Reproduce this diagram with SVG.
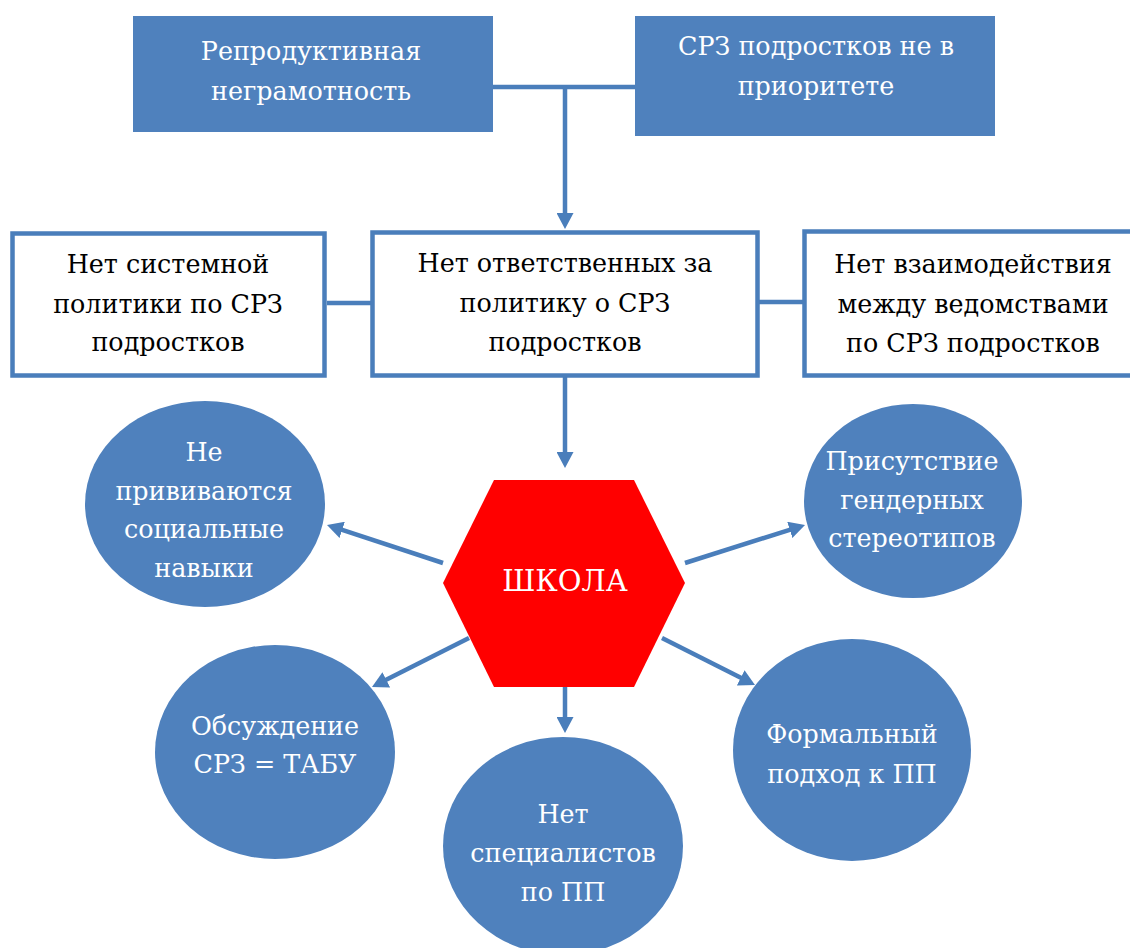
<svg xmlns="http://www.w3.org/2000/svg" width="1130" height="948" viewBox="0 0 1130 948">
<style>
.t{font-family:"DejaVu Serif","Liberation Serif",serif;font-size:25.4px;text-anchor:middle}
.w{fill:#FFFFFF}
.k{fill:#000000}
.fill{fill:#4F81BD}
.box{fill:#FFFFFF;stroke:#4A7EBB;stroke-width:4.5}
.con{stroke:#4A7EBB;stroke-width:4.5;fill:none}
</style>
<defs>
<marker id="ah" markerUnits="userSpaceOnUse" markerWidth="16" markerHeight="17" viewBox="0 0 16 17" refX="4" refY="8.5" orient="auto">
<path d="M0,0 L16,8.5 L0,17 z" fill="#4A7EBB"/>
</marker>
</defs>
<rect width="1130" height="948" fill="#FFFFFF"/>
<g id="connectors">
<line class="con" x1="493" y1="87" x2="635" y2="87"/>
<line class="con" x1="565" y1="87" x2="565" y2="217" marker-end="url(#ah)"/>
<line class="con" x1="327" y1="303" x2="372" y2="303"/>
<line class="con" x1="758" y1="302" x2="804" y2="302"/>
<line class="con" x1="565" y1="377" x2="565" y2="456" marker-end="url(#ah)"/>
<line class="con" x1="443" y1="563" x2="338.4" y2="528.7" marker-end="url(#ah)"/>
<line class="con" x1="685" y1="563" x2="793.6" y2="528.6" marker-end="url(#ah)"/>
<line class="con" x1="469" y1="638" x2="382.7" y2="681.6" marker-end="url(#ah)"/>
<line class="con" x1="662" y1="638" x2="744.3" y2="679.6" marker-end="url(#ah)"/>
<line class="con" x1="565" y1="687" x2="565" y2="721" marker-end="url(#ah)"/>
</g>
<g id="n1">
<rect class="fill" x="133" y="16" width="360" height="116"/>
<text class="t w" x="311" y="60">Репродуктивная</text>
<text class="t w" x="311" y="100">неграмотность</text>
</g>
<g id="n2">
<rect class="fill" x="635" y="16" width="360" height="120"/>
<text class="t w" x="816" y="55">СРЗ подростков не в</text>
<text class="t w" x="816" y="95">приоритете</text>
</g>
<g id="n3">
<rect class="box" x="12.5" y="233.5" width="312" height="142"/>
<text class="t k" x="168" y="273">Нет системной</text>
<text class="t k" x="168" y="313">политики по СРЗ</text>
<text class="t k" x="168" y="351">подростков</text>
</g>
<g id="n4">
<rect class="box" x="372.5" y="232.5" width="385" height="143"/>
<text class="t k" x="565" y="272">Нет ответственных за</text>
<text class="t k" x="565" y="312">политику о СРЗ</text>
<text class="t k" x="565" y="351">подростков</text>
</g>
<g id="n5">
<rect class="box" x="804.5" y="231.5" width="340" height="144"/>
<text class="t k" x="973" y="273">Нет взаимодействия</text>
<text class="t k" x="973" y="313">между ведомствами</text>
<text class="t k" x="973" y="352">по СРЗ подростков</text>
</g>
<g id="n6">
<polygon points="494,480 634,480 685,583 634,687 494,687 443,583" fill="#FF0000"/>
<text x="565" y="591" style="font-family:'DejaVu Serif','Liberation Serif',serif;font-size:29px;text-anchor:middle" fill="#FFFFFF">ШКОЛА</text>
</g>
<g id="n7">
<ellipse class="fill" cx="205" cy="504" rx="120" ry="103"/>
<text class="t w" x="204" y="461">Не</text>
<text class="t w" x="204" y="500">прививаются</text>
<text class="t w" x="204" y="538">социальные</text>
<text class="t w" x="204" y="577">навыки</text>
</g>
<g id="n8">
<ellipse class="fill" cx="913" cy="501" rx="109" ry="97"/>
<text class="t w" x="912" y="470">Присутствие</text>
<text class="t w" x="912" y="509">гендерных</text>
<text class="t w" x="912" y="547">стереотипов</text>
</g>
<g id="n9">
<ellipse class="fill" cx="275" cy="752" rx="120" ry="107"/>
<text class="t w" x="275" y="735">Обсуждение</text>
<text class="t w" x="275" y="773">СРЗ = ТАБУ</text>
</g>
<g id="n10">
<ellipse class="fill" cx="563" cy="846" rx="120" ry="109"/>
<text class="t w" x="563" y="823">Нет</text>
<text class="t w" x="563" y="862">специалистов</text>
<text class="t w" x="563" y="901">по ПП</text>
</g>
<g id="n11">
<ellipse class="fill" cx="852" cy="750" rx="119" ry="111"/>
<text class="t w" x="852" y="743">Формальный</text>
<text class="t w" x="852" y="783">подход к ПП</text>
</g>
</svg>
